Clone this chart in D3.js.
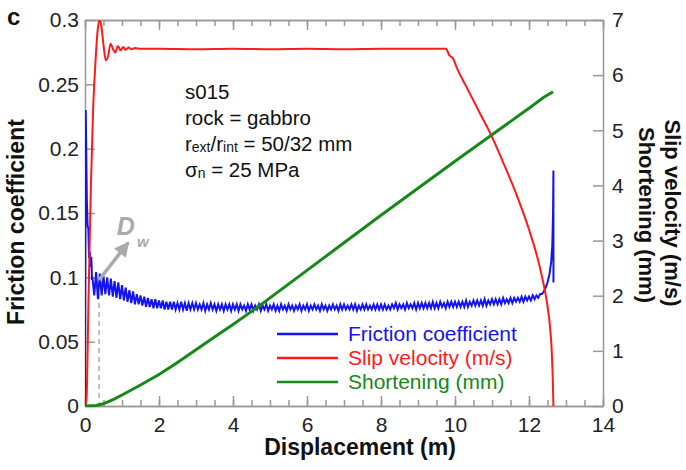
<!DOCTYPE html>
<html>
<head>
<meta charset="utf-8">
<script src="https://cdn.jsdelivr.net/npm/d3@7"></script>
<style>
body { margin: 0; background: #fff; }
text { font-family: "Liberation Sans", Arial, sans-serif; }
</style>
</head>
<body>
<div id="chart" style="width:686px;height:470px"></div>
<script>
// tick values / labels
const xTicks = [0, 2, 4, 6, 8, 10, 12, 14];
const xMinorTicks = [0, 0.5, 1, 1.5, 2, 2.5, 3, 3.5, 4, 4.5, 5, 5.5, 6, 6.5, 7, 7.5, 8, 8.5, 9, 9.5, 10, 10.5, 11, 11.5, 12, 12.5, 13, 13.5, 14];
const frictionTicks = [0, 0.05, 0.1, 0.15, 0.2, 0.25, 0.3];
const frictionTickLabels = ["0", "0.05", "0.1", "0.15", "0.2", "0.25", "0.3"];
const rightTicks = [0, 1, 2, 3, 4, 5, 6, 7];

// friction coefficient vs displacement (m)
const friction = [
  [0, 0], [0.02, 0.23], [0.05, 0.16], [0.07, 0.14], [0.09, 0.138], [0.11, 0.115], [0.13, 0.12], [0.15, 0.108], [0.17, 0.116], [0.19, 0.098],
  [0.20, 0.100], [0.25, 0.086], [0.30, 0.104], [0.35, 0.083], [0.40, 0.103], [0.45, 0.086], [0.50, 0.101], [0.55, 0.087], [0.60, 0.100], [0.65, 0.086], [0.70, 0.099], [0.75, 0.085], [0.80, 0.097], [0.85, 0.084], [0.90, 0.096], [0.95, 0.083],
  [1.00, 0.094], [1.05, 0.082], [1.10, 0.092], [1.15, 0.081], [1.20, 0.090], [1.25, 0.080], [1.30, 0.089], [1.35, 0.079], [1.40, 0.087], [1.45, 0.079], [1.50, 0.086], [1.55, 0.078], [1.60, 0.085], [1.65, 0.077], [1.70, 0.084], [1.75, 0.077], [1.80, 0.083], [1.85, 0.076], [1.90, 0.083], [1.95, 0.076],
  [2.00, 0.082], [2.05, 0.076], [2.10, 0.082], [2.15, 0.075], [2.20, 0.081], [2.25, 0.075], [2.30, 0.081], [2.35, 0.075], [2.40, 0.081], [2.45, 0.075], [2.50, 0.080], [2.55, 0.075], [2.60, 0.081], [2.65, 0.075], [2.70, 0.080], [2.75, 0.074], [2.80, 0.080], [2.85, 0.075], [2.90, 0.080], [2.95, 0.075],
  [3.00, 0.080], [3.05, 0.075], [3.10, 0.079], [3.15, 0.075], [3.20, 0.080], [3.25, 0.074], [3.30, 0.079], [3.35, 0.075], [3.40, 0.080], [3.45, 0.075], [3.50, 0.079], [3.55, 0.074], [3.60, 0.079], [3.65, 0.075], [3.70, 0.079], [3.75, 0.074], [3.80, 0.079], [3.85, 0.075], [3.90, 0.079], [3.95, 0.074],
  [4.00, 0.079], [4.05, 0.075], [4.10, 0.079], [4.15, 0.074], [4.20, 0.079], [4.25, 0.075], [4.30, 0.078], [4.35, 0.074], [4.40, 0.079], [4.45, 0.075], [4.50, 0.079], [4.55, 0.074], [4.60, 0.078], [4.65, 0.075], [4.70, 0.079], [4.75, 0.074], [4.80, 0.078], [4.85, 0.075], [4.90, 0.079], [4.95, 0.074],
  [5.00, 0.078], [5.05, 0.075], [5.10, 0.079], [5.15, 0.074], [5.20, 0.078], [5.25, 0.074], [5.30, 0.079], [5.35, 0.075], [5.40, 0.078], [5.45, 0.074], [5.50, 0.079], [5.55, 0.075], [5.60, 0.078], [5.65, 0.074], [5.70, 0.078], [5.75, 0.075], [5.80, 0.079], [5.85, 0.074], [5.90, 0.078], [5.95, 0.075],
  [6.00, 0.079], [6.05, 0.074], [6.10, 0.078], [6.15, 0.075], [6.20, 0.079], [6.25, 0.075], [6.30, 0.078], [6.35, 0.074], [6.40, 0.079], [6.45, 0.075], [6.50, 0.078], [6.55, 0.074], [6.60, 0.078], [6.65, 0.075], [6.70, 0.079], [6.75, 0.075], [6.80, 0.078], [6.85, 0.074], [6.90, 0.079], [6.95, 0.075],
  [7.00, 0.079], [7.05, 0.075], [7.10, 0.078], [7.15, 0.075], [7.20, 0.079], [7.25, 0.075], [7.30, 0.079], [7.35, 0.074], [7.40, 0.078], [7.45, 0.075], [7.50, 0.079], [7.55, 0.075], [7.60, 0.079], [7.65, 0.075], [7.70, 0.078], [7.75, 0.075], [7.80, 0.079], [7.85, 0.075], [7.90, 0.079], [7.95, 0.075],
  [8.00, 0.079], [8.05, 0.075], [8.10, 0.079], [8.15, 0.075], [8.20, 0.078], [8.25, 0.075], [8.30, 0.079], [8.35, 0.076], [8.40, 0.080], [8.45, 0.075], [8.50, 0.079], [8.55, 0.076], [8.60, 0.079], [8.65, 0.075], [8.70, 0.080], [8.75, 0.076], [8.80, 0.079], [8.85, 0.076], [8.90, 0.080], [8.95, 0.075],
  [9.00, 0.080], [9.05, 0.076], [9.10, 0.080], [9.15, 0.076], [9.20, 0.080], [9.25, 0.076], [9.30, 0.080], [9.35, 0.076], [9.40, 0.081], [9.45, 0.076], [9.50, 0.080], [9.55, 0.076], [9.60, 0.081], [9.65, 0.077], [9.70, 0.080], [9.75, 0.076], [9.80, 0.081], [9.85, 0.077], [9.90, 0.081], [9.95, 0.077],
  [10.00, 0.081], [10.05, 0.077], [10.10, 0.081], [10.15, 0.077], [10.20, 0.081], [10.25, 0.077], [10.30, 0.082], [10.35, 0.077], [10.40, 0.081], [10.45, 0.078], [10.50, 0.082], [10.55, 0.078], [10.60, 0.082], [10.65, 0.078], [10.70, 0.082], [10.75, 0.078], [10.80, 0.083], [10.85, 0.078], [10.90, 0.082], [10.95, 0.079],
  [11.00, 0.083], [11.05, 0.079], [11.10, 0.083], [11.15, 0.079], [11.20, 0.083], [11.25, 0.079], [11.30, 0.084], [11.35, 0.080], [11.40, 0.083], [11.45, 0.080], [11.50, 0.084], [11.55, 0.080], [11.60, 0.084], [11.65, 0.081], [11.70, 0.084], [11.75, 0.081], [11.80, 0.085], [11.85, 0.081], [11.90, 0.085], [11.95, 0.082],
  [12.00, 0.085], [12.05, 0.082], [12.10, 0.086], [12.15, 0.083], [12.20, 0.086], [12.25, 0.084], [12.30, 0.087], [12.35, 0.087], [12.40, 0.089], [12.45, 0.092], [12.50, 0.096], [12.55, 0.102], [12.60, 0.112], [12.63, 0.125], [12.65, 0.150], [12.66, 0.183], [12.661, 0.096]
];

// slip velocity (m/s) vs displacement (m)
const slipVelocity = [
  [0, 0], [0.03, 0], [0.1, 2.1], [0.16, 4.0], [0.22, 5.4], [0.28, 6.2], [0.34, 6.8], [0.39, 7.0], [0.44, 6.9],
  [0.5, 6.55], [0.56, 6.27], [0.62, 6.33], [0.69, 6.57], [0.76, 6.47], [0.82, 6.41], [0.89, 6.53], [0.96, 6.45], [1.03, 6.51], [1.1, 6.46], [1.18, 6.5], [1.26, 6.47], [1.35, 6.49], [1.5, 6.48],
  [2, 6.48], [3, 6.47], [4, 6.48], [5, 6.47], [6, 6.48], [7, 6.47], [8, 6.48], [9, 6.48], [9.75, 6.48],
  [9.85, 6.36], [9.95, 6.3], [10.05, 6.13], [10.3, 5.8], [10.68, 5.3], [10.95, 4.95], [11.3, 4.42], [11.67, 3.82], [12.0, 3.2],
  [12.2, 2.76], [12.35, 2.35], [12.48, 1.9], [12.57, 1.42], [12.61, 1.05], [12.64, 0.55], [12.66, 0]
];

// axial shortening (mm) vs displacement (m)
const shortening = [
  [0, 0], [0.3, 0.01], [0.5, 0.04], [0.8, 0.13], [1.0, 0.2], [1.5, 0.38], [2.0, 0.57], [2.5, 0.79], [3.0, 1.02], [3.5, 1.25], [4.0, 1.48],
  [4.7, 1.81], [5.0, 1.96], [6.0, 2.46], [7.0, 2.96], [8.0, 3.46], [9.0, 3.95], [10.0, 4.44], [11.0, 4.92], [12.0, 5.40], [12.4, 5.6], [12.65, 5.70]
];

const legendLabels = ["Friction coefficient", "Slip velocity (m/s)", "Shortening (mm)"];
const seriesColors = ["#1414f0", "#ff1a1a", "#16891a"];

// D_w marker
const dwDisplacement = 0.38;
const dwFriction = 0.087;

function friction_plot(element_id) {
    const margin = { top: 20, right: 83, bottom: 64, left: 85 };
    const plot_width = 686, plot_height = 470;
    const width = plot_width - margin.left - margin.right;
    const height = plot_height - margin.top - margin.bottom;

    const root = d3.select(`#${element_id}`)
        .append("svg")
        .attr("width", plot_width)
        .attr("height", plot_height);
    const svg = root.append("g")
        .attr("transform", `translate(${margin.left},${margin.top})`);

    const x = d3.scaleLinear().domain([0, 14]).range([0, width]);
    const yF = d3.scaleLinear().domain([0, 0.3]).range([height, 0]);
    const yR = d3.scaleLinear().domain([0, 7]).range([height, 0]);

    function style_axis(g) {
        g.attr("font-size", null).attr("font-family", null);
        g.selectAll(".domain, line").attr("stroke", "#999").attr("stroke-width", 1.5);
        g.selectAll("text").attr("font-size", 21).attr("fill", "#222");
    }

    // minor ticks
    svg.append("g").attr("transform", `translate(0,${height})`)
        .call(d3.axisBottom(x).tickValues(xMinorTicks).tickSize(-6).tickSizeOuter(0).tickFormat(""))
        .call(style_axis);
    svg.append("g")
        .call(d3.axisTop(x).tickValues(xMinorTicks).tickSize(-6).tickSizeOuter(0).tickFormat(""))
        .call(style_axis);

    svg.append("g").attr("transform", `translate(0,${height})`)
        .call(d3.axisBottom(x).tickValues(xTicks).tickSize(-10).tickSizeOuter(0).tickPadding(11).tickFormat(d3.format("d")))
        .call(style_axis);
    svg.append("g")
        .call(d3.axisTop(x).tickValues(xTicks).tickSize(-10).tickSizeOuter(0).tickFormat(""))
        .call(style_axis);
    svg.append("g")
        .call(d3.axisLeft(yF).tickValues(frictionTicks).tickSize(-10).tickSizeOuter(0).tickPadding(6)
            .tickFormat((d, i) => frictionTickLabels[i]))
        .call(style_axis);
    svg.append("g").attr("transform", `translate(${width},0)`)
        .call(d3.axisRight(yR).tickValues(rightTicks).tickSize(-10).tickSizeOuter(0).tickPadding(9)
            .tickFormat(d3.format("d")))
        .call(style_axis);

    svg.append("clipPath").attr("id", "clip")
        .append("rect").attr("width", width).attr("height", height + 1);

    const lineF = d3.line().x(d => x(d[0])).y(d => yF(d[1]));
    const lineR = d3.line().x(d => x(d[0])).y(d => yR(d[1]));
    const lineSmooth = d3.line().x(d => x(d[0])).y(d => yR(d[1])).curve(d3.curveMonotoneX);

    // D_w dashed marker
    svg.append("line")
        .attr("x1", x(dwDisplacement)).attr("x2", x(dwDisplacement))
        .attr("y1", yF(dwFriction)).attr("y2", yF(0))
        .attr("stroke", "#aaa").attr("stroke-width", 1.5).attr("stroke-dasharray", "5,4");

    const lines = svg.append("g").attr("clip-path", "url(#clip)");
    lines.append("path").datum(friction)
        .attr("fill", "none").attr("stroke", seriesColors[0]).attr("stroke-width", 2)
        .attr("d", lineF);
    lines.append("path").datum(slipVelocity)
        .attr("fill", "none").attr("stroke", seriesColors[1]).attr("stroke-width", 2)
        .attr("d", lineSmooth);
    lines.append("path").datum(shortening)
        .attr("fill", "none").attr("stroke", seriesColors[2]).attr("stroke-width", 3)
        .attr("d", lineR);

    // arrow + D_w label
    root.append("defs").append("marker")
        .attr("id", "head").attr("viewBox", "0 0 10 10")
        .attr("refX", 9).attr("refY", 5)
        .attr("markerUnits", "userSpaceOnUse")
        .attr("markerWidth", 16).attr("markerHeight", 15)
        .attr("orient", "auto")
        .append("path").attr("d", "M0,0 L10,5 L0,10 z").attr("fill", "#aaa");
    svg.append("line")
        .attr("x1", x(0.38)).attr("y1", yF(0.098))
        .attr("x2", x(1.17)).attr("y2", yF(0.127))
        .attr("stroke", "#aaa").attr("stroke-width", 3.5)
        .attr("marker-end", "url(#head)");
    const dw = svg.append("text")
        .attr("x", x(0.86)).attr("y", yF(0.133))
        .attr("fill", "#aaa").attr("font-weight", "bold").attr("font-style", "italic")
        .attr("font-size", 25);
    dw.append("tspan").text("D");
    dw.append("tspan").attr("dx", 2).attr("dy", 12).attr("font-size", 15).text("w");

    // info block
    const info = svg.append("text").attr("x", 100).attr("y", 79)
        .attr("font-size", 20.5).attr("fill", "#111");
    info.append("tspan").attr("x", 100).attr("y", 79).text("s015");
    info.append("tspan").attr("x", 100).attr("y", 105).text("rock = gabbro");
    const r = svg.append("text").attr("x", 100).attr("y", 131).attr("font-size", 20.5).attr("fill", "#111");
    r.append("tspan").text("r");
    r.append("tspan").attr("font-size", 14).attr("dy", 1).text("ext");
    r.append("tspan").attr("dy", -1).text("/r");
    r.append("tspan").attr("font-size", 14).attr("dy", 1).text("int");
    r.append("tspan").attr("dy", -1).text(" = 50/32 mm");
    const s = svg.append("text").attr("x", 100).attr("y", 157).attr("font-size", 20.5).attr("fill", "#111");
    s.append("tspan").text("σ");
    s.append("tspan").attr("font-size", 14).attr("dy", 1).text("n");
    s.append("tspan").attr("dy", -1).text(" = 25 MPa");

    // legend
    const legend = svg.append("g");
    legendLabels.forEach((label, i) => {
        const ly = 314 + i * 24;
        legend.append("line").attr("x1", 192).attr("x2", 253).attr("y1", ly).attr("y2", ly)
            .attr("stroke", seriesColors[i]).attr("stroke-width", 2.5);
        legend.append("text").attr("x", 263).attr("y", ly).attr("dy", "0.35em")
            .attr("font-size", 21).attr("fill", seriesColors[i]).text(label);
    });

    // axis titles
    root.append("text")
        .attr("x", 360).attr("y", 455)
        .attr("text-anchor", "middle").attr("font-weight", "bold").attr("font-size", 23)
        .attr("fill", "#111").text("Displacement (m)");
    root.append("text")
        .attr("transform", "translate(24,222) rotate(-90)")
        .attr("text-anchor", "middle").attr("font-weight", "bold").attr("font-size", 23)
        .attr("fill", "#111").text("Friction coefficient");
    root.append("text")
        .attr("transform", "translate(665,213) rotate(90)")
        .attr("text-anchor", "middle").attr("font-weight", "bold").attr("font-size", 22)
        .attr("fill", "#111").text("Slip velocity (m/s)");
    root.append("text")
        .attr("transform", "translate(639,215) rotate(90)")
        .attr("text-anchor", "middle").attr("font-weight", "bold").attr("font-size", 22)
        .attr("fill", "#111").text("Shortening (mm)");

    root.append("text").attr("x", 7).attr("y", 25)
        .attr("font-weight", "bold").attr("font-size", 24).attr("fill", "#111").text("c");
}

friction_plot("chart");
</script>
</body>
</html>
